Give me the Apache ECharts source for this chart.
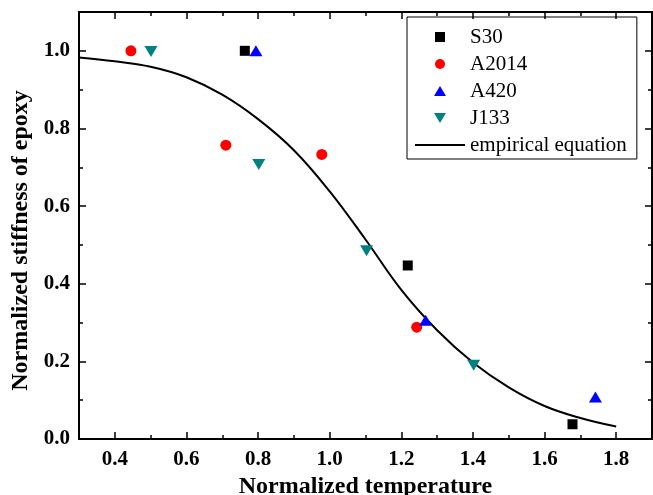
<!DOCTYPE html>
<html><head><meta charset="utf-8">
<script src="https://cdn.jsdelivr.net/npm/echarts@6/dist/echarts.min.js"></script>
<style>html,body{margin:0;padding:0;background:#fff}#c{width:653px;height:495px}</style>
</head><body><div id="c"></div>
<script>
const s30 = [[0.763, 1.0], [1.218, 0.447], [1.678, 0.038]];
const a2014 = [[0.445, 1.0], [0.71, 0.757], [0.978, 0.733], [1.243, 0.288]];
const a420 = [[0.794, 1.0], [1.268, 0.306], [1.742, 0.108]];
const j133 = [[0.501, 0.998], [0.802, 0.707], [1.103, 0.485], [1.402, 0.19]];
const curveX = [0.3, 0.4, 0.5, 0.6, 0.7, 0.8, 0.9, 1.0, 1.1, 1.2, 1.3, 1.4, 1.5, 1.6, 1.7, 1.8];
const curveY = [0.983, 0.973, 0.959, 0.932, 0.887, 0.824, 0.744, 0.638, 0.514, 0.384, 0.280, 0.197, 0.133, 0.085, 0.054, 0.032];
const xTicks = ['0.4','0.6','0.8','1.0','1.2','1.4','1.6','1.8'];
const yTicks = ['0.0','0.2','0.4','0.6','0.8','1.0'];
const seriesNames = ['S30', 'A2014', 'A420', 'J133', 'empirical equation'];

const serif = '"Liberation Serif","Times New Roman",serif';
const chart = echarts.init(document.getElementById('c'));
const axLine = {show: true, onZero: false, lineStyle: {color: '#000', width: 2}};
const tick = {show: true, inside: true, length: 7, lineStyle: {color: '#000', width: 1.5}};
const minor = {show: true, splitNumber: 2, length: 4, lineStyle: {color: '#000', width: 1.5}};
const labelFont = {fontFamily: serif, fontSize: 21, fontWeight: 'bold', color: '#000'};
const nameFont = {fontFamily: serif, fontSize: 24, fontWeight: 'bold', color: '#000'};
const xBase = {type: 'value', min: 0.3, max: 1.9, splitNumber: 8,
  axisLine: axLine, axisTick: tick, minorTick: minor, splitLine: {show: false}, minorSplitLine: {show: false}};
const yBase = {type: 'value', min: 0, max: 1.1, interval: 0.2,
  axisLine: axLine, axisTick: tick, minorTick: minor, splitLine: {show: false}, minorSplitLine: {show: false}};
const icons = {
  'S30': 'path://M0,0H10V10H0Z',
  'A2014': 'circle',
  'A420': 'path://M6,0L12,10H0Z',
  'J133': 'path://M0,0H12L6,10Z',
  'empirical equation': 'path://M0,0H50V2H0Z'
};
chart.setOption({
  animation: false,
  backgroundColor: '#fff',
  grid: {left: 79, right: 1, top: 12, bottom: 56, containLabel: false, outerBoundsMode: 'none'},
  legend: {
    orient: 'vertical', left: 407, top: 17,
    padding: [9.5, 10, 3.5, 8], itemGap: 6,
    itemWidth: 50, itemHeight: 10, symbolKeepAspect: true,
    borderColor: '#000', borderWidth: 1, borderRadius: 0,
    textStyle: {fontFamily: serif, fontSize: 21, lineHeight: 21, color: '#000'},
    data: seriesNames.map(n => ({name: n, icon: icons[n]}))
  },
  xAxis: [Object.assign({}, xBase, {
    name: 'Normalized temperature', nameLocation: 'middle', nameGap: 33, nameTextStyle: nameFont,
    axisLabel: Object.assign({margin: 10, showMinLabel: false, showMaxLabel: false,
      formatter: v => { const s = v.toFixed(1); return xTicks.includes(s) ? s : ''; }}, labelFont)
  }), Object.assign({}, xBase, {position: 'top', axisLabel: {show: false}})],
  yAxis: [Object.assign({}, yBase, {
    name: 'Normalized stiffness of epoxy', nameLocation: 'middle', nameGap: 42,
    nameTextStyle: Object.assign({padding: [0, 30, 0, 0]}, nameFont),
    axisLabel: Object.assign({margin: 9, showMaxLabel: false,
      formatter: v => { const s = v.toFixed(1); return yTicks.includes(s) ? s : ''; }}, labelFont)
  }), Object.assign({}, yBase, {position: 'right', axisLabel: {show: false}})],
  series: [
    {name: 'S30', type: 'scatter', data: s30, symbol: 'rect', symbolSize: 10, itemStyle: {color: '#000', opacity: 1}, z: 3},
    {name: 'A2014', type: 'scatter', data: a2014, symbol: 'circle', symbolSize: 11, itemStyle: {color: '#ff0000', opacity: 1}, z: 3},
    {name: 'A420', type: 'scatter', data: a420, symbol: 'triangle', symbolSize: [13, 11], itemStyle: {color: '#0000ff', opacity: 1}, z: 3},
    {name: 'J133', type: 'scatter', data: j133, symbol: 'triangle', symbolRotate: 180, symbolSize: [13, 11], itemStyle: {color: '#008080', opacity: 1}, z: 3},
    {name: 'empirical equation', type: 'line', smooth: 0.4, showSymbol: false, symbol: 'none',
      data: curveX.map((x, i) => [x, curveY[i]]), lineStyle: {color: '#000', width: 2}, itemStyle: {color: '#000'}, z: 2}
  ]
});
</script></body></html>
